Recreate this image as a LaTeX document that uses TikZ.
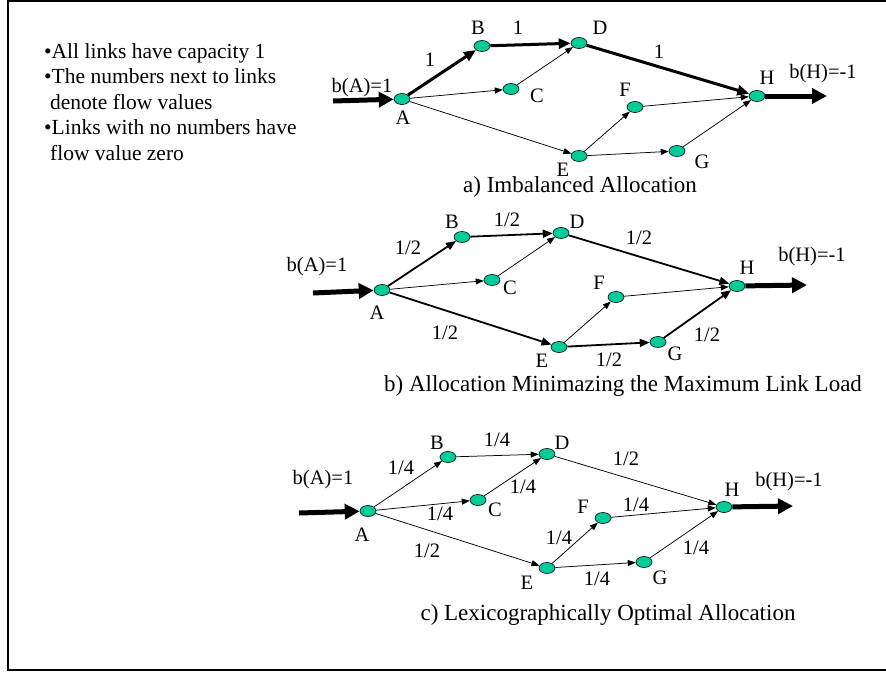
\documentclass[tikz,border=0pt]{standalone}
\usepackage{fontspec}
\setmainfont{Liberation Serif}
\usetikzlibrary{shapes.geometric,arrows.meta}
\definecolor{nodefill}{RGB}{0,204,153}
\tikzset{
  nd/.style={ellipse,draw=black,line width=0.6pt,fill=nodefill,minimum width=16pt,minimum height=11pt,inner sep=0pt},
  lbl/.style={font=\fontsize{20.5}{24}\selectfont,inner sep=0pt},
  note/.style={font=\fontsize{21.5}{25}\selectfont,inner sep=0pt,anchor=base west},
  captxt/.style={font=\fontsize{23}{27}\selectfont,inner sep=0pt},
  thinedge/.style={line width=0.75pt,-{Triangle[length=8pt,width=6pt]}},
  medge/.style={line width=1.8pt,-{Triangle[length=10pt,width=8pt]}},
  bedge/.style={line width=3pt,-{Triangle[length=12pt,width=10pt]}},
  ioedge/.style={line width=5pt,-{Triangle[length=15pt,width=15pt]}},
}
\begin{document}
\begin{tikzpicture}[x=1pt,y=-1pt]
\useasboundingbox (0,0) rectangle (886,673);
% frame
\draw[line width=2pt] (886,1) -- (8.3,1) -- (8.3,670) -- (886,670);
% notes
\node[note] (n1) at (44,58) {•All links have capacity 1};
\node[note] (n2) at (44,83.5) {•The numbers next to links};
\node[note] (n3) at (50,109) {denote flow values};
\node[note] (n4) at (44,134.5) {•Links with no numbers have};
\node[note] (n5) at (50,160) {flow value zero};

% ---------- a ----------
\node[nd] (aA) at (402,99) {};
\node[nd] (aB) at (482,46) {};
\node[nd] (aC) at (511,89) {};
\node[nd] (aD) at (579,43) {};
\node[nd] (aE) at (579,156) {};
\node[nd] (aF) at (635,107) {};
\node[nd] (aG) at (677,151) {};
\node[nd] (aH) at (757,96) {};
\coordinate (aIn) at (333,101);
\coordinate (aOut) at (827,96);
\draw[ioedge] (aIn) -- (aA);
\draw[ioedge] (aH) -- (aOut);
\draw[bedge] (aA) -- (aB);
\draw[bedge] (aB) -- (aD);
\draw[bedge] (aD) -- (aH);
\draw[thinedge] (aA) -- (aC);
\draw[thinedge] (aC) -- (aD);
\draw[thinedge] (aA) -- (aE);
\draw[thinedge] (aE) -- (aF);
\draw[thinedge] (aE) -- (aG);
\draw[thinedge] (aF) -- (aH);
\draw[thinedge] (aG) -- (aH);
\node[lbl] (laA) at (403,118) {A};
\node[lbl] (laB) at (478,28) {B};
\node[lbl] (laC) at (537,96) {C};
\node[lbl] (laD) at (600,28) {D};
\node[lbl] (laE) at (563,170) {E};
\node[lbl] (laF) at (625,90) {F};
\node[lbl] (laG) at (702,162) {G};
\node[lbl] (laH) at (767,78) {H};
\node[lbl] (labA) at (362,88) {b(A)=1};
\node[lbl] (labH) at (823,74) {b(H)=-1};
\node[lbl] (fa1) at (430,60) {1};
\node[lbl] (fa2) at (518,28) {1};
\node[lbl] (fa3) at (659,52) {1};
\node[captxt] (capa) at (580,187) {a) Imbalanced Allocation};

% ---------- b ----------
\node[nd] (bA) at (382,290) {};
\node[nd] (bB) at (462,237) {};
\node[nd] (bC) at (492,280) {};
\node[nd] (bD) at (561,233) {};
\node[nd] (bE) at (559,347) {};
\node[nd] (bF) at (616,297) {};
\node[nd] (bG) at (658,342) {};
\node[nd] (bH) at (737,286) {};
\coordinate (bIn) at (313,293);
\coordinate (bOut) at (807,285);
\draw[ioedge] (bIn) -- (bA);
\draw[ioedge] (bH) -- (bOut);
\draw[medge] (bA) -- (bB);
\draw[medge] (bB) -- (bD);
\draw[medge] (bA) -- (bE);
\draw[medge] (bD) -- (bH);
\draw[medge] (bE) -- (bG);
\draw[medge] (bG) -- (bH);
\draw[thinedge] (bA) -- (bC);
\draw[thinedge] (bC) -- (bD);
\draw[thinedge] (bE) -- (bF);
\draw[thinedge] (bF) -- (bH);
\node[lbl] (lbA) at (377,313) {A};
\node[lbl] (lbB) at (452,222) {B};
\node[lbl] (lbC) at (510,288) {C};
\node[lbl] (lbD) at (577,222) {D};
\node[lbl] (lbE) at (542,361) {E};
\node[lbl] (lbF) at (599,283) {F};
\node[lbl] (lbG) at (675,354) {G};
\node[lbl] (lbH) at (747,268) {H};
\node[lbl] (lbbA) at (317,267) {b(A)=1};
\node[lbl] (lbbH) at (812,257) {b(H)=-1};
\node[lbl] (fb1) at (408,248) {1/2};
\node[lbl] (fb2) at (507,220) {1/2};
\node[lbl] (fb3) at (445,333) {1/2};
\node[lbl] (fb4) at (639,238) {1/2};
\node[lbl] (fb5) at (609,360) {1/2};
\node[lbl] (fb6) at (707,335) {1/2};
\node[captxt] (capb) at (623,386) {b) Allocation Minimazing the Maximum Link Load};

% ---------- c ----------
\node[nd] (cA) at (368,511) {};
\node[nd] (cB) at (448,457) {};
\node[nd] (cC) at (478,500) {};
\node[nd] (cD) at (547,454) {};
\node[nd] (cE) at (547,568) {};
\node[nd] (cF) at (603,518) {};
\node[nd] (cG) at (644,562) {};
\node[nd] (cH) at (724,507) {};
\coordinate (cIn) at (299,513);
\coordinate (cOut) at (793,506);
\draw[ioedge] (cIn) -- (cA);
\draw[ioedge] (cH) -- (cOut);
\draw[thinedge] (cA) -- (cB);
\draw[thinedge] (cB) -- (cD);
\draw[thinedge] (cA) -- (cC);
\draw[thinedge] (cC) -- (cD);
\draw[thinedge] (cA) -- (cE);
\draw[thinedge] (cD) -- (cH);
\draw[thinedge] (cE) -- (cF);
\draw[thinedge] (cE) -- (cG);
\draw[thinedge] (cF) -- (cH);
\draw[thinedge] (cG) -- (cH);
\node[lbl] (lcA) at (362,535) {A};
\node[lbl] (lcB) at (437,443) {B};
\node[lbl] (lcC) at (495,510) {C};
\node[lbl] (lcD) at (562,443) {D};
\node[lbl] (lcE) at (527,583) {E};
\node[lbl] (lcF) at (583,507) {F};
\node[lbl] (lcG) at (660,578) {G};
\node[lbl] (lcH) at (732,490) {H};
\node[lbl] (lcbA) at (323,480) {b(A)=1};
\node[lbl] (lcbH) at (789,482) {b(H)=-1};
\node[lbl] (fc1) at (401,468) {1/4};
\node[lbl] (fc2) at (497,440) {1/4};
\node[lbl] (fc3) at (523,487) {1/4};
\node[lbl] (fc4) at (440,514) {1/4};
\node[lbl] (fc5) at (427,551) {1/2};
\node[lbl] (fc6) at (559,538) {1/4};
\node[lbl] (fc7) at (626,459) {1/2};
\node[lbl] (fc8) at (636,505) {1/4};
\node[lbl] (fc9) at (696,548) {1/4};
\node[lbl] (fc10) at (597,579) {1/4};
\node[captxt] (capc) at (608,615) {c) Lexicographically Optimal Allocation};
\end{tikzpicture}
\end{document}
